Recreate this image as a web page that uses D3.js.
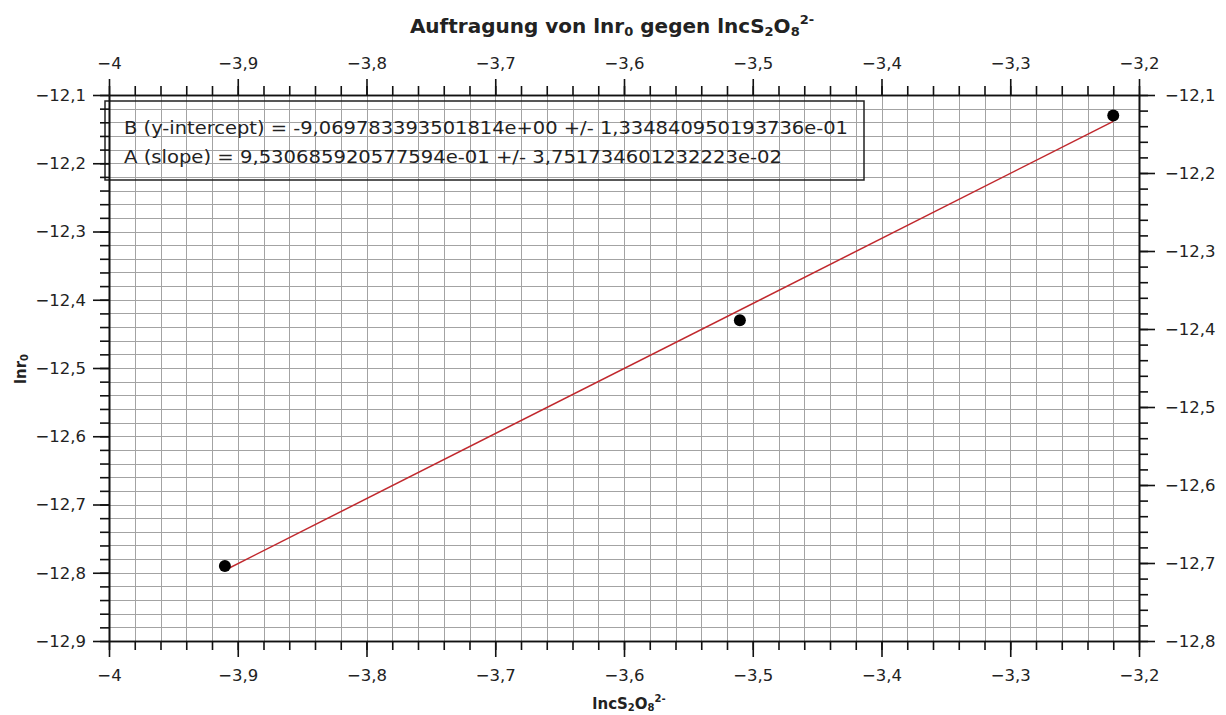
<!DOCTYPE html>
<html>
<head>
<meta charset="utf-8">
<script src="https://cdn.jsdelivr.net/npm/d3@7"></script>
<style>
  body { margin: 0; background: #fff; }
  svg text { font-family: "DejaVu Sans", Tahoma, sans-serif; fill: #222; }
</style>
</head>
<body>
<script>

// measured points: ln c(S2O8 2-) vs ln r0
var lnc = [-3.91, -3.51, -3.22];
var lnr = [-12.79, -12.43, -12.13];

// linear fit result as printed in the chart
var fitIntercept = -9.06978339350181;
var fitSlope = 0.9530685920577594;
var fitLines = [
    "B (y-intercept) = -9,069783393501814e+00 +/- 1,334840950193736e-01",
    "A (slope) = 9,530685920577594e-01 +/- 3,751734601232223e-02"
];
var fitWidths = [724, 658];

var xTicks = [-4, -3.9, -3.8, -3.7, -3.6, -3.5, -3.4, -3.3, -3.2];
var yTicksLeft = [-12.9, -12.8, -12.7, -12.6, -12.5, -12.4, -12.3, -12.2, -12.1];
var yTicksRight = [-12.8, -12.7, -12.6, -12.5, -12.4, -12.3, -12.2, -12.1];

function plot_it() {
    var W = 1226, H = 715;
    var left = 109, right = 1139, top = 95, bottom = 641;

    var svg = d3.select("body").append("svg")
        .attr("width", W)
        .attr("height", H);

    var x = d3.scaleLinear().domain([-4, -3.2]).range([left, right]);
    var yL = d3.scaleLinear().domain([-12.9, -12.1]).range([bottom, top]);
    var yR = d3.scaleLinear().domain([-12.8, -12.1]).range([bottom, top]);

    var de = d3.formatLocale({ decimal: ",", thousands: ".", grouping: [3], currency: ["", ""], minus: "\u2212" });
    var fmt = function (d) { return de.format("~g")(+d.toFixed(2)); };

    // minor ticks every 0.02
    var xMinor = d3.range(0, 41).map(function (i) { return -4 + i * 0.02; });
    var yLMinor = d3.range(0, 41).map(function (i) { return -12.9 + i * 0.02; });
    var yRMinor = d3.range(0, 36).map(function (i) { return -12.8 + i * 0.02; });

    // grid
    var grid = svg.append("g").attr("shape-rendering", "crispEdges");
    grid.selectAll("line.v").data(xMinor).enter().append("line")
        .attr("class", "v")
        .attr("x1", function (d) { return Math.round(x(d)) + 0.5; })
        .attr("x2", function (d) { return Math.round(x(d)) + 0.5; })
        .attr("y1", top).attr("y2", bottom)
        .attr("stroke", "#a3a3a3").attr("stroke-width", 1);
    grid.selectAll("line.h").data(yLMinor).enter().append("line")
        .attr("class", "h")
        .attr("y1", function (d) { return Math.round(yL(d)) + 0.5; })
        .attr("y2", function (d) { return Math.round(yL(d)) + 0.5; })
        .attr("x1", left).attr("x2", right)
        .attr("stroke", "#a3a3a3").attr("stroke-width", 1);

    // fit box
    svg.append("rect")
        .attr("x", 105).attr("y", 101)
        .attr("width", 759).attr("height", 79)
        .attr("fill", "none")
        .attr("stroke", "#222").attr("stroke-width", 1.5);
    svg.selectAll("text.fit").data(fitLines).enter().append("text")
        .attr("class", "fit")
        .attr("x", 124)
        .attr("y", function (d, i) { return 134 + i * 29; })
        .attr("textLength", function (d, i) { return fitWidths[i]; })
        .attr("lengthAdjust", "spacingAndGlyphs")
        .style("font-size", "18.5px")
        .text(function (d) { return d; });

    // axes
    function styleAxis(g) {
        g.selectAll("path.domain").attr("stroke", "#111").attr("stroke-width", 1.6);
        g.selectAll(".tick line").attr("stroke", "#111").attr("stroke-width", 1.6);
        g.selectAll("text").style("font-size", "16.5px").attr("fill", "#222")
            .style("font-family", "'DejaVu Sans', Tahoma, sans-serif");
    }

    var axes = [
        { a: d3.axisTop(x), t: "translate(0," + top + ")", ticks: xTicks, minor: xMinor, pad: 10 },
        { a: d3.axisBottom(x), t: "translate(0," + bottom + ")", ticks: xTicks, minor: xMinor, pad: 12 },
        { a: d3.axisLeft(yL), t: "translate(" + left + ",0)", ticks: yTicksLeft, minor: yLMinor, pad: 7 },
        { a: d3.axisRight(yR), t: "translate(" + right + ",0)", ticks: yTicksRight, minor: yRMinor, pad: 10 }
    ];
    axes.forEach(function (ax) {
        var gm = svg.append("g").attr("transform", ax.t)
            .call(ax.a.tickValues(ax.minor).tickSize(9).tickSizeOuter(0).tickFormat(""));
        styleAxis(gm);
        var gM = svg.append("g").attr("transform", ax.t)
            .call(ax.a.tickValues(ax.ticks).tickSize(16).tickSizeOuter(0)
                .tickPadding(ax.pad).tickFormat(fmt));
        styleAxis(gM);
    });

    // fit line
    var xFit = d3.extent(lnc);
    svg.append("line")
        .attr("x1", x(xFit[0])).attr("y1", yL(fitIntercept + fitSlope * xFit[0]))
        .attr("x2", x(xFit[1])).attr("y2", yL(fitIntercept + fitSlope * xFit[1]))
        .attr("stroke", "#c0282d").attr("stroke-width", 1.5);

    // points
    svg.selectAll("circle.pt").data(lnc).enter().append("circle")
        .attr("class", "pt")
        .attr("cx", function (d) { return x(d); })
        .attr("cy", function (d, i) { return yL(lnr[i]); })
        .attr("r", 6)
        .attr("fill", "#000");

    // title
    var title = svg.append("text")
        .attr("x", 612).attr("y", 33)
        .attr("text-anchor", "middle")
        .style("font-size", "20px").style("font-weight", "bold");
    title.append("tspan").text("Auftragung von lnr");
    title.append("tspan").attr("dy", 3).style("font-size", "13px").text("0");
    title.append("tspan").attr("dy", -3).text(" gegen lncS");
    title.append("tspan").attr("dy", 3).style("font-size", "13px").text("2");
    title.append("tspan").attr("dy", -3).text("O");
    title.append("tspan").attr("dy", 3).style("font-size", "13px").text("8");
    title.append("tspan").attr("dy", -12).style("font-size", "13px").text("2-");

    // x label
    var xl = svg.append("text")
        .attr("x", 629).attr("y", 709)
        .attr("text-anchor", "middle")
        .style("font-size", "15px").style("font-weight", "bold");
    xl.append("tspan").text("lncS");
    xl.append("tspan").attr("dy", 2).style("font-size", "10px").text("2");
    xl.append("tspan").attr("dy", -2).text("O");
    xl.append("tspan").attr("dy", 2).style("font-size", "10px").text("8");
    xl.append("tspan").attr("dy", -9).style("font-size", "10px").text("2-");

    // y label
    var yl = svg.append("text")
        .attr("transform", "translate(26,369) rotate(-90)")
        .attr("text-anchor", "middle")
        .style("font-size", "15px").style("font-weight", "bold");
    yl.append("tspan").text("lnr");
    yl.append("tspan").attr("dy", 2).style("font-size", "10px").text("0");
}

plot_it();
</script>
</body>
</html>
